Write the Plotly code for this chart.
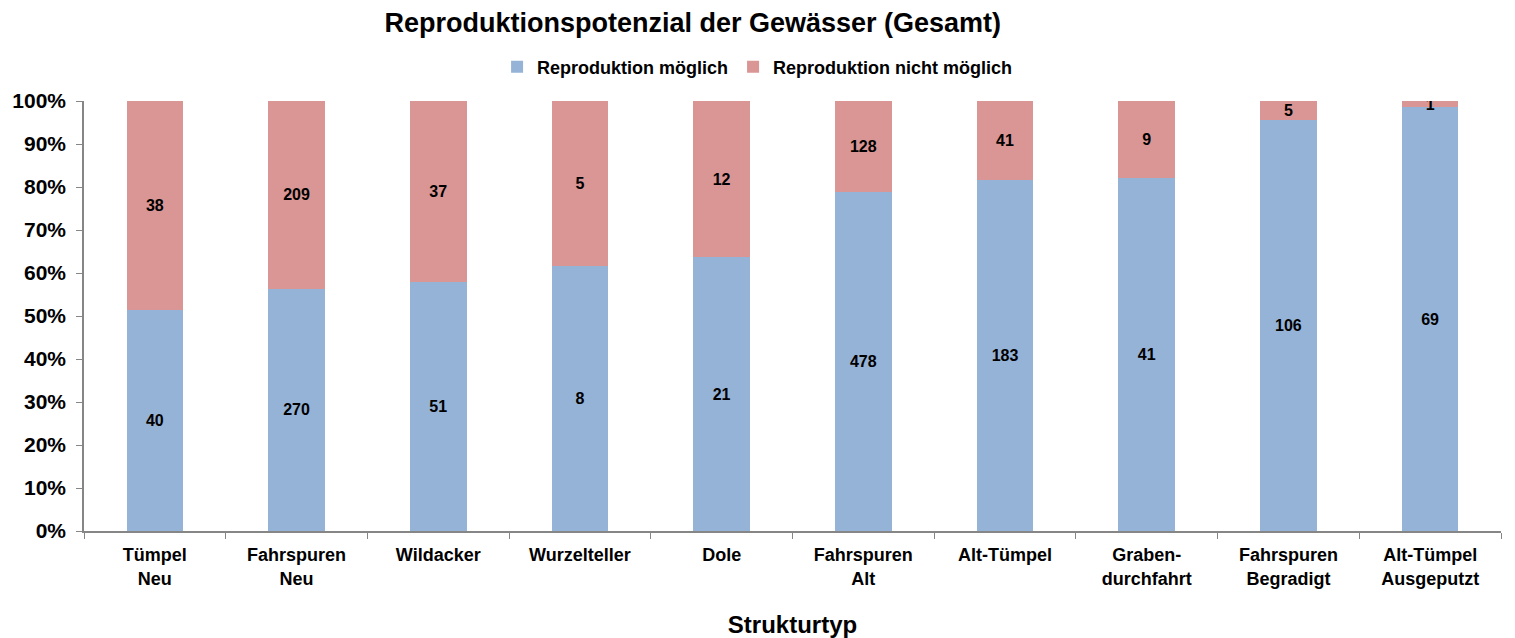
import plotly.graph_objects as go

categories = ["Tümpel<br>Neu", "Fahrspuren<br>Neu", "Wildacker", "Wurzelteller", "Dole",
              "Fahrspuren<br>Alt", "Alt-Tümpel", "Graben-<br>durchfahrt", "Fahrspuren<br>Begradigt",
              "Alt-Tümpel<br>Ausgeputzt"]
moeglich = [40, 270, 51, 8, 21, 478, 183, 41, 106, 69]
nicht_moeglich = [38, 209, 37, 5, 12, 128, 41, 9, 5, 1]

FONT = "Liberation Sans, Arial, sans-serif"

fig = go.Figure()
fig.add_trace(go.Bar(
    name="<b>Reproduktion möglich</b>", x=categories, y=moeglich,
    marker=dict(color="#95B3D7", line=dict(width=0)),
    text=moeglich, texttemplate="<b>%{text}</b>", textposition="inside",
    insidetextanchor="middle", constraintext="none", textangle=0,
    textfont=dict(family=FONT, size=16, color="black"),
))
fig.add_trace(go.Bar(
    name="<b>Reproduktion nicht möglich</b>", x=categories, y=nicht_moeglich,
    marker=dict(color="#D99694", line=dict(width=0)),
    text=nicht_moeglich, texttemplate="<b>%{text}</b>", textposition="inside",
    insidetextanchor="middle", constraintext="none", textangle=0,
    textfont=dict(family=FONT, size=16, color="black"),
))

fig.update_layout(
    barmode="stack", barnorm="percent", bargap=0.6,
    width=1515, height=638,
    margin=dict(l=76, r=22, t=93, b=115),
    paper_bgcolor="white", plot_bgcolor="white",
    font=dict(family=FONT, color="black"),
    title=dict(text="<b>Reproduktionspotenzial der Gewässer (Gesamt)</b>",
               x=0.452, xanchor="center", y=0.978, yanchor="middle",
               font=dict(size=27, family=FONT, color="black")),
    legend=dict(orientation="h", x=0.475, xanchor="center", y=1.079, yanchor="middle",
                font=dict(size=18, family=FONT, color="black"),
                itemwidth=30, traceorder="normal", bgcolor="rgba(0,0,0,0)"),
    showlegend=True,
)
fig.update_xaxes(
    title=dict(text="<b>Strukturtyp</b>", font=dict(size=24, family=FONT, color="black"), standoff=28),
    tickfont=dict(size=18, family=FONT, color="black"),
    showline=True, linecolor="#868686", linewidth=1.5,
    ticks="outside", tickson="boundaries", ticklen=6, tickcolor="#868686",
    ticklabelstandoff=7, automargin=False,
    showgrid=False, tickprefix="<b>", ticksuffix="</b>",
)
fig.update_yaxes(
    range=[0, 100], tickvals=[0, 10, 20, 30, 40, 50, 60, 70, 80, 90, 100],
    ticktext=["<b>%d%%</b>" % v for v in range(0, 101, 10)],
    tickfont=dict(size=21, family=FONT, color="black"),
    showline=True, linecolor="#868686", linewidth=1.5,
    ticks="outside", ticklen=6, tickcolor="#868686",
    ticklabelstandoff=6, automargin=False,
    showgrid=False, zeroline=False,
)

fig.write_html("out.html")
